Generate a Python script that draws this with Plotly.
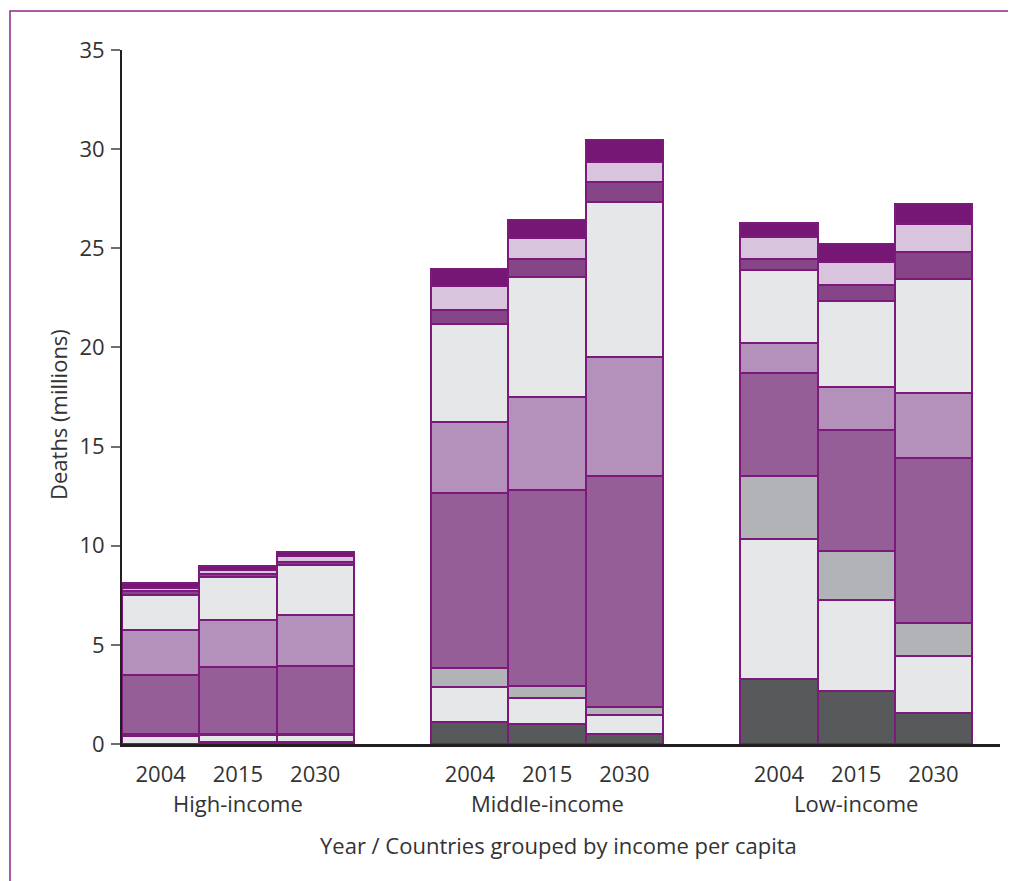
import plotly.graph_objects as go

groups = ["High-income", "Middle-income", "Low-income"]
years = ["2004", "2015", "2030"]

# Series values (millions of deaths), order: High 2004, 2015, 2030, Middle 2004, 2015, 2030, Low 2004, 2015, 2030
s1 = [0.00, 0.10, 0.10, 1.11, 1.01, 0.49, 3.29, 2.69, 1.55]
s2 = [0.40, 0.35, 0.35, 1.75, 1.31, 0.97, 7.06, 4.57, 2.90]
s3 = [0.10, 0.05, 0.05, 0.97, 0.62, 0.42, 3.18, 2.49, 1.67]
s4 = [3.00, 3.36, 3.45, 8.83, 9.87, 11.63, 5.20, 6.07, 8.29]
s5 = [2.23, 2.38, 2.54, 3.58, 4.69, 6.02, 1.51, 2.20, 3.28]
s6 = [1.80, 2.19, 2.54, 4.94, 6.07, 7.82, 3.66, 4.32, 5.78]
s7 = [0.17, 0.13, 0.13, 0.71, 0.89, 0.98, 0.55, 0.81, 1.36]
s8 = [0.17, 0.20, 0.30, 1.21, 1.04, 1.02, 1.10, 1.17, 1.38]
s9 = [0.23, 0.22, 0.22, 0.84, 0.92, 1.11, 0.71, 0.88, 1.01]

series = [s1, s2, s3, s4, s5, s6, s7, s8, s9]
names = ["Cause 1", "Cause 2", "Cause 3", "Cause 4", "Cause 5",
         "Cause 6", "Cause 7", "Cause 8", "Cause 9"]
colors = ["#58595b", "#e6e7e9", "#b1b3b6", "#955e96", "#b491ba",
          "#e6e7e9", "#864587", "#d8c4dc", "#761675"]

positions = [g * 4 + i for g in range(len(groups)) for i in range(len(years))]
ticktext = [y for g in groups for y in years]

# figure geometry (page body has an 8px margin)
W, H = 1008, 873
L, R, T, B = 114, 16, 42, 137
PW, PH = W - L - R, H - T - B


def px(xs):  # screen x -> paper
    return (xs - 8 - L) / PW


def py(ys):  # screen y -> paper
    return (H - B - (ys - 8)) / PH


fig = go.Figure()
for vals, nm, col in zip(series, names, colors):
    fig.add_trace(go.Bar(
        x=positions, y=vals, name=nm, width=1.0,
        marker=dict(color=col, line=dict(color="#7b1a7a", width=2)),
        showlegend=False,
    ))

txt = "#333333"
FS = 22
fig.update_layout(
    barmode="stack",
    width=W, height=H,
    margin=dict(l=L, r=R, t=T, b=B),
    plot_bgcolor="white", paper_bgcolor="white",
    font=dict(family="Open Sans, Noto Sans, sans-serif", size=FS, color=txt),
    xaxis=dict(
        range=[-0.5, 10.86], tickvals=positions, ticktext=ticktext,
        showline=True, linecolor="#231f20", linewidth=3,
        ticks="", showgrid=False, zeroline=False,
        ticklabelstandoff=9,
    ),
    yaxis=dict(
        range=[0, 35], tickvals=[0, 5, 10, 15, 20, 25, 30, 35],
        showline=True, linecolor="#231f20", linewidth=2,
        ticks="outside", ticklen=9, tickwidth=2, tickcolor="#6d6e71",
        showgrid=False, zeroline=False, ticklabelstandoff=2,
    ),
)

for g, name in enumerate(groups):
    fig.add_annotation(x=g * 4 + 1, y=py(803), xref="x", yref="paper",
                       text=name, showarrow=False, yanchor="middle",
                       font=dict(size=FS, color=txt))

fig.add_annotation(x=px(558), y=py(845), xref="paper", yref="paper",
                   text="Year / Countries grouped by income per capita",
                   showarrow=False, yanchor="middle", font=dict(size=FS, color=txt))
fig.add_annotation(x=px(58), y=py(415), xref="paper", yref="paper",
                   text="Deaths (millions)", textangle=-90,
                   showarrow=False, xanchor="center", yanchor="middle",
                   font=dict(size=FS, color=txt))

fig.add_shape(type="rect", xref="paper", yref="paper",
              x0=px(10), x1=px(1030), y0=py(900), y1=py(11),
              line=dict(color="#8b2a89", width=1.5), layer="below")

fig.write_html("out.html")
